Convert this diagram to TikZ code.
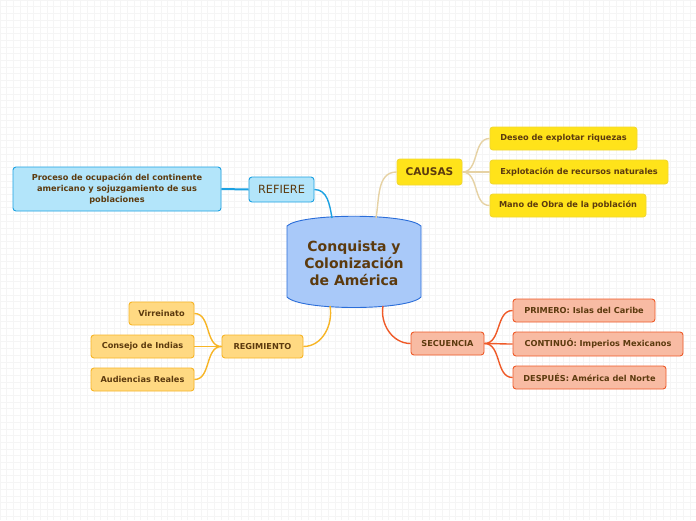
\documentclass[tikz,border=0pt]{standalone}
\usepackage{fontspec}
\setmainfont{DejaVu Sans}
\definecolor{txt}{HTML}{5C3A0E}
\definecolor{bluefill}{HTML}{B3E5FA}
\definecolor{blueline}{HTML}{1BA1E2}
\definecolor{cfill}{HTML}{A9C9F9}
\definecolor{cline}{HTML}{2A6DD9}
\definecolor{yfill}{HTML}{FFE31A}
\definecolor{yline}{HTML}{F2D82E}
\definecolor{tan}{HTML}{E6D2A4}
\definecolor{ofill}{HTML}{FFD982}
\definecolor{oline}{HTML}{F7B526}
\definecolor{rfill}{HTML}{F8BBA3}
\definecolor{rline}{HTML}{EF5A28}
\tikzset{
  box/.style={rounded corners=3pt, line width=0.9pt, text=txt, align=center, inner sep=0pt, font=\bfseries\fontsize{8.2}{11}\selectfont},
  bluebox/.style={box, draw=blueline, fill=bluefill},
  ybox/.style={box, draw=yline, fill=yfill},
  obox/.style={box, draw=oline, fill=ofill},
  rbox/.style={box, draw=rline, fill=rfill},
  link/.style={line width=1.4pt},
}
\begin{document}
\begin{tikzpicture}[x=1pt,y=-1pt]
\fill[white] (0,0) rectangle (696,520);
\useasboundingbox (0,0) rectangle (696,520);
\foreach \i in {0,...,104} {\draw[black!4, line width=0.6pt] (\i*6.7,0) -- (\i*6.7,520);}
\foreach \i in {0,...,78} {\draw[black!4, line width=0.6pt] (0,\i*6.7) -- (696,\i*6.7);}

% central node
\filldraw[fill=cfill, draw=cline, line width=0.9pt]
  (287,226) .. controls (300,213) and (408,213) .. (421,226)
  -- (421,297) .. controls (408,311) and (300,311) .. (287,297) -- cycle;
\node[text=txt, align=center, font=\bfseries\fontsize{14}{17}\selectfont] (center) at (354,263) {Conquista y\\Colonización\\ de América};
\coordinate (cT1) at (332,218);
\coordinate (cT2) at (376,218);
\coordinate (cB1) at (330,306);
\coordinate (cB2) at (383,306);

% REFIERE
\node[bluebox, minimum width=65pt, minimum height=25pt, font=\fontsize{11.3}{13}\selectfont] (ref) at (281.5,189.5) {REFIERE};
\node[bluebox, minimum width=208pt, minimum height=44pt] (proc) at (117,189) {Proceso de ocupación del continente\\americano y sojuzgamiento de sus\\poblaciones};

% CAUSAS
\node[ybox, minimum width=65pt, minimum height=26pt, font=\bfseries\fontsize{10.6}{12}\selectfont] (causas) at (429.5,172) {CAUSAS};
\node[ybox, minimum width=147pt, minimum height=23pt] (c1) at (563.5,138.5) {Deseo de explotar riquezas};
\node[ybox, minimum width=178pt, minimum height=24pt] (c2) at (579,172) {Explotación de recursos naturales};
\node[ybox, minimum width=156pt, minimum height=23pt] (c3) at (568,205.5) {Mano de Obra de la población};

% REGIMIENTO
\node[obox, minimum width=81pt, minimum height=23pt] (reg) at (262.5,346.5) {REGIMIENTO};
\node[obox, minimum width=65pt, minimum height=23pt] (r1) at (161.5,313.5) {Virreinato};
\node[obox, minimum width=103pt, minimum height=23pt] (r2) at (142.5,346.5) {Consejo de Indias};
\node[obox, minimum width=103pt, minimum height=23pt] (r3) at (142.5,379.5) {Audiencias Reales};

% SECUENCIA
\node[rbox, minimum width=73pt, minimum height=23pt] (sec) at (447.5,343.5) {SECUENCIA};
\node[rbox, minimum width=142pt, minimum height=23pt] (s1) at (584,310.5) {PRIMERO: Islas del Caribe};
\node[rbox, minimum width=170pt, minimum height=24pt] (s2) at (598,344) {CONTINUÓ: Imperios Mexicanos};
\node[rbox, minimum width=153pt, minimum height=23pt] (s3) at (589.5,377.5) {DESPUÉS: América del Norte};

% connectors
\draw[link, blueline] (cT1) to[out=100, in=0] (ref.east);
\draw[link, blueline, line width=2pt] (ref.west) -- (proc.east);
\draw[link, tan] (cT2) to[out=80, in=180] (causas.west);
\foreach \c in {c1,c2,c3} \draw[link, tan] (causas.east) to[out=0, in=180] (\c.west);
\draw[link, oline] (cB1) to[out=-80, in=0] (reg.east);
\foreach \c in {r1,r2,r3} \draw[link, oline] (reg.west) to[out=180, in=0] (\c.east);
\draw[link, rline] (cB2) to[out=-100, in=180] (sec.west);
\foreach \c in {s1,s2,s3} \draw[link, rline] (sec.east) to[out=0, in=180] (\c.west);
\end{tikzpicture}
\end{document}
